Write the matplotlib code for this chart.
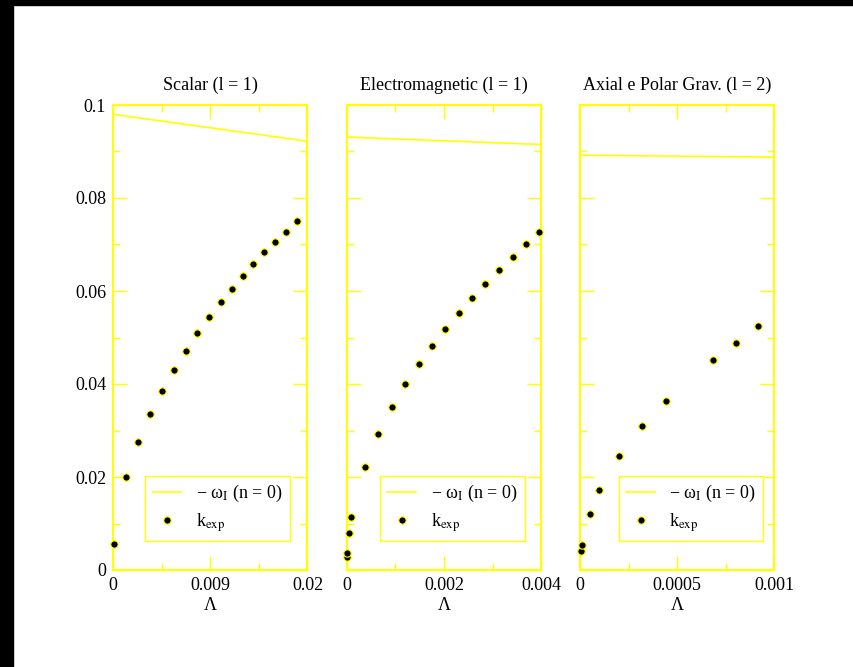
import matplotlib
matplotlib.use("Agg")
import matplotlib.pyplot as plt
from matplotlib.patches import Rectangle
from matplotlib.ticker import FixedLocator, MultipleLocator

plt.rcParams["font.family"] = ["Liberation Serif", "DejaVu Serif"]
plt.rcParams["mathtext.fontset"] = "stix"

YEL = "#ffff00"

# --- data ------------------------------------------------------------------
titles = ["Scalar (l = 1)", "Electromagnetic (l = 1)", "Axial e Polar Grav. (l = 2)"]

# -omega_I (n = 0) along Lambda
wI_x = [[0.0, 0.02], [0.0, 0.004], [0.0, 0.001]]
wI_y = [[0.0980, 0.0922], [0.0931, 0.0915], [0.0892, 0.0888]]

# k_exp points
k_scalar_x = [0.00013, 0.00136, 0.00256, 0.00376, 0.00499, 0.00623, 0.00746,
              0.00865, 0.00988, 0.01111, 0.01224, 0.01333, 0.01443, 0.01552,
              0.01665, 0.01774, 0.01887]
k_scalar_y = [0.0056, 0.0199, 0.0275, 0.0335, 0.0386, 0.0430, 0.0471, 0.0509,
              0.0544, 0.0576, 0.0604, 0.0632, 0.0658, 0.0683, 0.0705, 0.0726,
              0.0751]
k_em_x = [0.000006, 0.000006, 0.000054, 0.000095, 0.000377, 0.000652, 0.000928,
          0.00120, 0.00148, 0.00175, 0.00203, 0.00230, 0.00258, 0.00285,
          0.00313, 0.00341, 0.00368, 0.00396]
k_em_y = [0.0027, 0.0036, 0.0080, 0.0114, 0.0222, 0.0293, 0.0350, 0.0399,
          0.0443, 0.0482, 0.0519, 0.0553, 0.0585, 0.0616, 0.0645, 0.0674,
          0.0700, 0.0726]
k_grav_x = [0.0000036, 0.0000088, 0.000050, 0.0000995, 0.000199, 0.000321,
            0.000442, 0.000682, 0.000802, 0.000914]
k_grav_y = [0.0041, 0.0054, 0.0121, 0.0171, 0.0245, 0.0309, 0.0363, 0.0451,
            0.0489, 0.0525]
k_x = [k_scalar_x, k_em_x, k_grav_x]
k_y = [k_scalar_y, k_em_y, k_grav_y]

xmax = [0.02, 0.004, 0.001]
xticks = [[0.0, 0.01, 0.02], [0.0, 0.002, 0.004], [0.0, 0.0005, 0.001]]
xticklabels = [["0", "0.009", "0.02"], ["0", "0.002", "0.004"], ["0", "0.0005", "0.001"]]
yticks = [0.0, 0.02, 0.04, 0.06, 0.08, 0.1]
yticklabels = ["0", "0.02", "0.04", "0.06", "0.08", "0.1"]

# --- figure ----------------------------------------------------------------
W, H = 854, 667
fig = plt.figure(figsize=(W / 100, H / 100), dpi=100)
fig.patches.append(Rectangle((0, 1 - 5 / H), 1, 5 / H, transform=fig.transFigure,
                             color="black", zorder=-10))
fig.patches.append(Rectangle((0, 0), 13 / W, 1, transform=fig.transFigure,
                             color="black", zorder=-10))

lefts = [113, 346.7, 580]
legend_x = [0.166, 0.172, 0.20]
for i in range(3):
    ax = fig.add_axes([lefts[i] / W, 97 / H, 194.5 / W, 465 / H])
    ax.plot(wI_x[i], wI_y[i], color=YEL, lw=1.2, label="− ω$_{\\rm I}$ (n = 0)")
    ax.plot(k_x[i], k_y[i], ls="none", marker="o", ms=5.3, mfc="black", mec=YEL,
            mew=0.8, clip_on=False, zorder=5, label="k$_{\\rm exp}$")
    ax.set_xlim(0, xmax[i])
    ax.set_ylim(0, 0.1)

    ax.xaxis.set_major_locator(FixedLocator(xticks[i]))
    ax.set_xticklabels(xticklabels[i])
    ax.xaxis.set_minor_locator(MultipleLocator(xmax[i] / 4))
    ax.yaxis.set_major_locator(FixedLocator(yticks))
    ax.yaxis.set_minor_locator(MultipleLocator(0.01))
    if i == 0:
        ax.set_yticklabels(yticklabels)
    else:
        ax.set_yticklabels([])

    ax.tick_params(which="both", direction="in", top=True, right=True,
                   color=YEL, width=1.0, labelsize=13, pad=5)
    ax.tick_params(which="major", length=10)
    ax.tick_params(which="minor", length=5)
    for sp in ax.spines.values():
        sp.set_color(YEL)
        sp.set_linewidth(1.5)

    ax.set_title(titles[i], fontsize=13, pad=11)
    ax.set_xlabel("Λ", fontsize=13, labelpad=2)

    leg = ax.legend(loc="lower left", bbox_to_anchor=(legend_x[i], 0.062),
                    fontsize=13, frameon=True, fancybox=False, framealpha=1,
                    handlelength=1.6, handletextpad=0.8, borderpad=0.4,
                    labelspacing=0.4, borderaxespad=0, numpoints=1)
    leg.get_frame().set_edgecolor(YEL)
    leg.get_frame().set_linewidth(1.0)

fig.savefig("out.png", dpi=100)
